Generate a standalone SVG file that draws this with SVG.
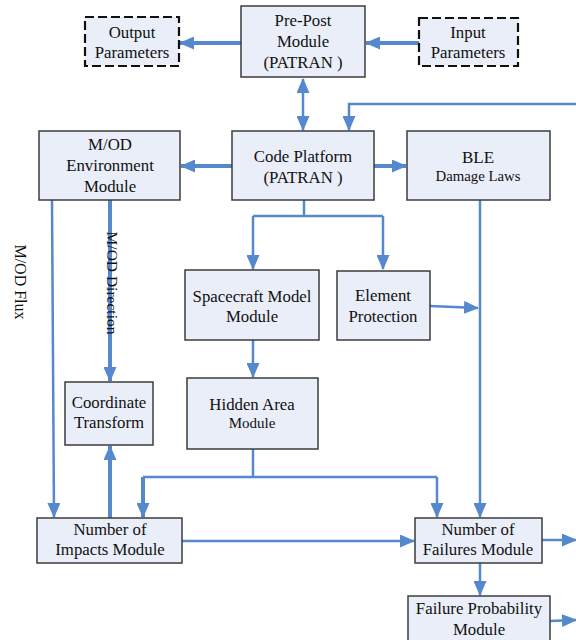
<svg xmlns="http://www.w3.org/2000/svg" width="576" height="640" viewBox="0 0 576 640">
<defs>
<style>
.box{fill:#e9eef8;stroke:#3c3c3c;stroke-width:1.5}
.dash{fill:#e9eef8;stroke:#111;stroke-width:2.2;stroke-dasharray:9 4}
.t{font-size:16.8px;fill:#111;text-anchor:middle}
.s{font-size:15px}
.w{fill:none;stroke:#5588cc;stroke-width:2.5}
.k{fill:none;stroke:#5588cc;stroke-width:4}
</style>
<marker id="a" markerUnits="userSpaceOnUse" markerWidth="15" markerHeight="13" refX="14" refY="6.5" orient="auto">
<path d="M0,0 L15,6.5 L0,13 z" fill="#5588cc"/>
</marker>
<marker id="b" markerUnits="userSpaceOnUse" markerWidth="15" markerHeight="13" refX="1" refY="6.5" orient="auto">
<path d="M15,0 L0,6.5 L15,13 z" fill="#5588cc"/>
</marker>
</defs>
<rect width="576" height="640" fill="#fff"/>
<g id="connectors">
<path class="k" d="M241,43 H180" marker-end="url(#a)"/>
<path class="k" d="M419,43 H366" marker-end="url(#a)"/>
<path class="w" d="M303,79 V130" marker-start="url(#b)" marker-end="url(#a)"/>
<path class="w" d="M576,104 H349 V130" marker-end="url(#a)"/>
<path class="k" d="M232,166 H181" marker-end="url(#a)"/>
<path class="k" d="M374,166 H406" marker-end="url(#a)"/>
<path class="w" d="M304,200 V216 M253,216 H383"/>
<path class="w" d="M253,216 V269" marker-end="url(#a)"/>
<path class="w" d="M383,216 V269" marker-end="url(#a)"/>
<path class="w" d="M430,306 L478,308" marker-end="url(#a)"/>
<path class="w" d="M480,200 V517" marker-end="url(#a)"/>
<path class="w" d="M52,200 L54,517" marker-end="url(#a)"/>
<path class="k" d="M110,200 V381" marker-end="url(#a)"/>
<path class="w" d="M253,340 V377" marker-end="url(#a)"/>
<path class="w" d="M253,449 V477 M143,477 H437"/>
<path class="k" d="M143,477 V517" marker-end="url(#a)"/>
<path class="w" d="M437,477 V517" marker-end="url(#a)"/>
<path class="k" d="M110,518 V446" marker-end="url(#a)"/>
<path class="w" d="M182,541 H414" marker-end="url(#a)"/>
<path class="w" d="M542,540 H576" marker-end="url(#a)"/>
<path class="w" d="M480,563 V595" marker-end="url(#a)"/>
<path class="w" d="M550,621 L576,620" marker-end="url(#a)"/>
</g>
<g font-family="Liberation Serif, 'Times New Roman', 'DejaVu Serif', serif">
<g id="output">
<rect class="dash" x="85" y="17" width="94" height="49"/>
<text class="t" x="132" y="38">Output</text>
<text class="t" x="132" y="58">Parameters</text>
</g>
<g id="prepost">
<rect class="box" x="241" y="6" width="124" height="71"/>
<text class="t" x="303" y="26">Pre-Post</text>
<text class="t" x="303" y="47">Module</text>
<text class="t" x="303" y="68">(PATRAN )</text>
</g>
<g id="input">
<rect class="dash" x="419" y="18" width="99" height="48"/>
<text class="t" x="468" y="38">Input</text>
<text class="t" x="468" y="58">Parameters</text>
</g>
<g id="mod">
<rect class="box" x="39" y="131" width="141" height="69"/>
<text class="t" x="110" y="150">M/OD</text>
<text class="t" x="110" y="171">Environment</text>
<text class="t" x="110" y="192">Module</text>
</g>
<g id="code">
<rect class="box" x="232" y="131" width="142" height="69"/>
<text class="t" x="303" y="162">Code Platform</text>
<text class="t" x="303" y="183">(PATRAN )</text>
</g>
<g id="ble">
<rect class="box" x="407" y="131" width="143" height="69"/>
<text class="t" x="478" y="163" style="font-size:17px">BLE</text>
<text class="t" x="478" y="181" style="font-size:14.8px">Damage Laws</text>
</g>
<g id="spacecraft">
<rect class="box" x="185" y="270" width="134" height="70"/>
<text class="t" x="252" y="302">Spacecraft Model</text>
<text class="t" x="252" y="322">Module</text>
</g>
<g id="element">
<rect class="box" x="337" y="271" width="93" height="69"/>
<text class="t" x="383" y="301">Element</text>
<text class="t" x="383" y="322">Protection</text>
</g>
<g id="coordinate">
<rect class="box" x="65" y="382" width="88" height="63"/>
<text class="t" x="109" y="408">Coordinate</text>
<text class="t" x="109" y="428">Transform</text>
</g>
<g id="hidden">
<rect class="box" x="187" y="378" width="131" height="71"/>
<text class="t" x="252" y="410">Hidden Area</text>
<text class="t s" x="252" y="428">Module</text>
</g>
<g id="impacts">
<rect class="box" x="37" y="518" width="145" height="45"/>
<text class="t" x="110" y="535">Number of</text>
<text class="t" x="110" y="555">Impacts Module</text>
</g>
<g id="failures">
<rect class="box" x="415" y="518" width="127" height="45"/>
<text class="t" x="478" y="535">Number of</text>
<text class="t" x="478" y="555">Failures Module</text>
</g>
<g id="probability">
<rect class="box" x="408" y="596" width="142" height="50"/>
<text class="t" x="479" y="614">Failure Probability</text>
<text class="t" x="479" y="635">Module</text>
</g>
<g id="labels">
<text class="t" transform="translate(15,282) rotate(90)" style="font-size:16px">M/OD Flux</text>
<text class="t" transform="translate(107,283) rotate(90)" style="font-size:15.5px">M/OD Direction</text>
</g>
</g>
</svg>
